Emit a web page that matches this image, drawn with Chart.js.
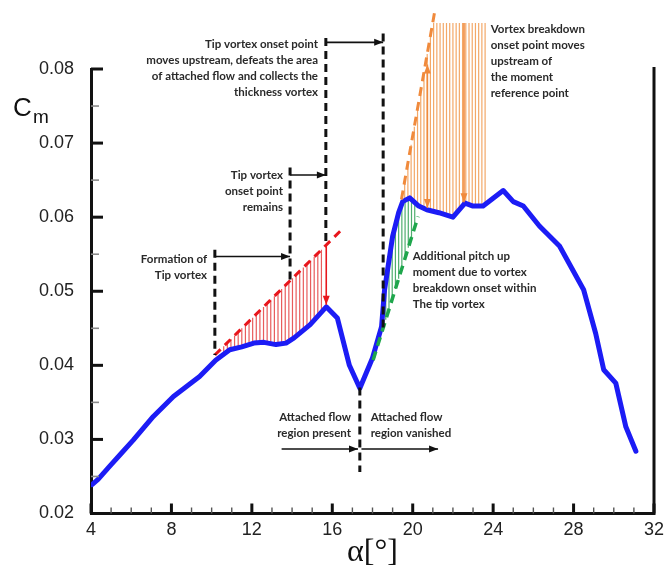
<!DOCTYPE html>
<html>
<head>
<meta charset="utf-8">
<script src="https://cdn.jsdelivr.net/npm/chart.js@4.4.0/dist/chart.umd.min.js"></script>
<style>
  html, body { margin: 0; padding: 0; background: #fff; }
  canvas { display: block; }
</style>
</head>
<body>
<canvas id="cmChart" width="666" height="571"></canvas>
<script>
// ── Pitching moment curve ──
const alpha = [4.05, 4.35, 4.9, 5.5, 6.1, 7.1, 8.1, 9.4, 10.2, 10.9, 11.5, 12.1, 12.6, 13.2, 13.7, 14.1,
  14.9, 15.7, 16.25, 16.85, 17.37, 18.0, 18.45, 18.6, 18.8, 19.0, 19.3, 19.5, 19.85, 20.3, 20.7,
  21.3, 22.0, 22.6, 23.0, 23.5, 24.5, 25.0, 25.5, 26.3, 27.3, 28.5, 29.1, 29.5, 30.1, 30.6, 31.1];
const cm = [0.0239, 0.0246, 0.0263, 0.0281, 0.0299, 0.0331, 0.0358, 0.0385, 0.0407, 0.0421, 0.0425,
  0.0430, 0.0431, 0.0428, 0.0430, 0.0437, 0.0455, 0.0479, 0.0464, 0.0400, 0.0369, 0.0410, 0.0452,
  0.0502, 0.0538, 0.0574, 0.0606, 0.0621, 0.0626, 0.0615, 0.0610, 0.0606, 0.0600, 0.0619, 0.0615,
  0.0615, 0.0636, 0.0621, 0.0615, 0.0588, 0.0561, 0.0502, 0.0443, 0.0394, 0.0376, 0.0317, 0.0284];
const xTicks = [4, 8, 12, 16, 20, 24, 28, 32];
const yTicks = [0.02, 0.03, 0.04, 0.05, 0.06, 0.07, 0.08];

// ── Sketch annotations (in alpha / Cm units) ──
const redLine = [[10.16, 0.0414], [16.54, 0.0585]];
const greenLine = [[18.03, 0.0407], [20.27, 0.0601]];
const orangeLine = [[19.44, 0.0624], [21.09, 0.0877]];
const orangeCap = 0.0862;
const redHatch = [10.6, 15.6];
const greenHatch = [18.5, 20.1];
const orangeHatch = [19.6, 23.6];
// [alpha, cm top, cm bottom]
const guides = [[10.16, 0.0556, 0.0414], [13.9, 0.0667, 0.0515], [15.68, 0.0842, 0.0563],
  [18.53, 0.0848, 0.0448], [17.37, 0.0370, 0.0256]];
// [alpha from, alpha to, cm]
const arrows = [[10.16, 13.9, 0.0547], [13.9, 15.68, 0.0657], [15.68, 18.53, 0.0836],
  [13.48, 17.28, 0.0287], [17.45, 21.26, 0.0287]];
const notes = [
  { at: [15.29, 0.0833], align: 'right', lines: ['Tip vortex onset point', 'moves upstream, defeats the area', 'of attached flow and collects the', 'thickness vortex'] },
  { at: [13.55, 0.0656], align: 'right', lines: ['Tip vortex', 'onset point', 'remains'] },
  { at: [9.77, 0.0543], align: 'right', lines: ['Formation of', 'Tip vortex'] },
  { at: [23.88, 0.0854], align: 'left', lines: ['Vortex breakdown', 'onset point moves', 'upstream of', 'the moment', 'reference point'] },
  { at: [20.0, 0.0547], align: 'left', lines: ['Additional pitch up', 'moment due to vortex', 'breakdown onset within', 'The tip vortex'] },
  { at: [16.93, 0.0330], align: 'right', lines: ['Attached flow', 'region present'] },
  { at: [17.91, 0.0330], align: 'left', lines: ['Attached flow', 'region vanished'] },
];

const BLUE = '#1c1cf5';
const RED = '#e8161c';
const GREEN = '#1ea64c';
const ORANGE = '#f08a3c';
const INK = '#111';
const TEXT = '#2a2a2a';

function cmAt(a) {
  for (let i = 1; i < alpha.length; i++) {
    if (a <= alpha[i]) {
      const t = (a - alpha[i - 1]) / (alpha[i] - alpha[i - 1]);
      return cm[i - 1] + t * (cm[i] - cm[i - 1]);
    }
  }
  return cm[cm.length - 1];
}
function lineAt(seg, a) {
  const [[x0, y0], [x1, y1]] = seg;
  return y0 + (a - x0) * (y1 - y0) / (x1 - x0);
}

function arrowHead(ctx, x0, y0, x1, y1, len, half) {
  const ang = Math.atan2(y1 - y0, x1 - x0);
  ctx.beginPath();
  ctx.moveTo(x1, y1);
  ctx.lineTo(x1 - len * Math.cos(ang) + half * Math.sin(ang), y1 - len * Math.sin(ang) - half * Math.cos(ang));
  ctx.lineTo(x1 - len * Math.cos(ang) - half * Math.sin(ang), y1 - len * Math.sin(ang) + half * Math.cos(ang));
  ctx.closePath();
  ctx.fill();
}
function arrow(ctx, x0, y0, x1, y1, color, both) {
  ctx.save();
  ctx.strokeStyle = color; ctx.fillStyle = color; ctx.lineWidth = 1.6; ctx.setLineDash([]);
  ctx.beginPath(); ctx.moveTo(x0, y0); ctx.lineTo(x1, y1); ctx.stroke();
  arrowHead(ctx, x0, y0, x1, y1, 9, 3.5);
  if (both) arrowHead(ctx, x1, y1, x0, y0, 9, 3.5);
  ctx.restore();
}

const sketch = {
  id: 'sketch',
  beforeDatasetsDraw(chart) {
    const { ctx } = chart;
    const X = v => chart.scales.x.getPixelForValue(v);
    const Y = v => chart.scales.y.getPixelForValue(v);
    const hatch = (range, step, topFn, botFn, color) => {
      ctx.save();
      ctx.setLineDash([]);
      ctx.strokeStyle = color; ctx.lineWidth = 1.2;
      ctx.beginPath();
      for (let a = range[0]; a <= range[1] + 1e-9; a += step) {
        const x = X(a);
        ctx.moveTo(x, Y(topFn(a))); ctx.lineTo(x, Y(botFn(a)));
      }
      ctx.stroke();
      ctx.restore();
    };
    hatch(redHatch, 0.18, a => lineAt(redLine, a), cmAt, '#e85c5c');
    hatch(greenHatch, 0.16, cmAt, a => Math.min(cmAt(a), lineAt(greenLine, a)), '#4fae6e');
    hatch(orangeHatch, 0.16, a => Math.min(orangeCap, Math.max(cmAt(a), lineAt(orangeLine, a))), cmAt, '#f3a868');
  },
  afterDatasetsDraw(chart) {
    const { ctx } = chart;
    const X = v => chart.scales.x.getPixelForValue(v);
    const Y = v => chart.scales.y.getPixelForValue(v);
    const dashed = (seg, color, width, dash) => {
      ctx.save();
      ctx.strokeStyle = color; ctx.lineWidth = width; ctx.setLineDash(dash);
      ctx.beginPath();
      ctx.moveTo(X(seg[0][0]), Y(seg[0][1]));
      ctx.lineTo(X(seg[1][0]), Y(seg[1][1]));
      ctx.stroke();
      ctx.restore();
    };
    dashed(redLine, RED, 3, [8, 6]);
    dashed(greenLine, GREEN, 3.5, [9, 6]);
    dashed(orangeLine, ORANGE, 3, [9, 6]);
    guides.forEach(g => dashed([[g[0], g[1]], [g[0], g[2]]], INK, 3, [8, 5]));
    arrows.forEach(a => arrow(ctx, X(a[0]), Y(a[2]), X(a[1]), Y(a[2]), INK, false));

    // red and orange drop arrows
    arrow(ctx, X(15.7), Y(lineAt(redLine, 15.7)), X(15.7), Y(cmAt(15.7)) - 2, RED, false);
    arrow(ctx, X(20.73), Y(0.0806), X(20.73), Y(cmAt(20.73)) - 2, ORANGE, true);
    arrow(ctx, X(22.55), Y(orangeCap), X(22.55), Y(cmAt(22.55)) - 2, ORANGE, false);

    ctx.save();
    ctx.font = 'bold 11.5px Lato';
    ctx.fillStyle = TEXT;
    ctx.textBaseline = 'middle';
    notes.forEach(n => {
      ctx.textAlign = n.align;
      n.lines.forEach((t, i) => ctx.fillText(t, X(n.at[0]), Y(n.at[1]) + i * 16));
    });
    ctx.restore();
  },
  afterDraw(chart) {
    const { ctx, chartArea: { left, right, top, bottom } } = chart;
    const X = v => chart.scales.x.getPixelForValue(v);
    const Y = v => chart.scales.y.getPixelForValue(v);
    const seg = (x0, y0, x1, y1) => { ctx.beginPath(); ctx.moveTo(x0, y0); ctx.lineTo(x1, y1); ctx.stroke(); };
    ctx.save();
    ctx.setLineDash([]);
    // right frame
    ctx.strokeStyle = INK; ctx.lineWidth = 3;
    seg(X(32), top - 2, X(32), bottom + 1.5);
    // inward ticks
    ctx.lineWidth = 3;
    yTicks.forEach(v => seg(left, Y(v), left + 12, Y(v)));
    xTicks.forEach(v => seg(X(v), bottom, X(v), bottom - 10));
    ctx.strokeStyle = '#8a8a8a'; ctx.lineWidth = 1.6;
    for (let i = 0; i < yTicks.length - 1; i++) {
      const v = (yTicks[i] + yTicks[i + 1]) / 2;
      seg(left, Y(v), left + 8, Y(v));
    }
    ctx.strokeStyle = '#555'; ctx.lineWidth = 1.4;
    for (let a = xTicks[0] + 1; a < xTicks[xTicks.length - 1]; a++) {
      if (a % 4 !== 0) seg(X(a), bottom, X(a), bottom - 6);
    }
    // axis titles
    ctx.fillStyle = '#111';
    ctx.textBaseline = 'alphabetic';
    ctx.textAlign = 'left';
    ctx.font = '26px "Liberation Sans"';
    ctx.fillText('C', 13, 116);
    ctx.font = '19px "Liberation Sans"';
    ctx.fillText('m', 33, 123);
    ctx.textAlign = 'center';
    ctx.textBaseline = 'middle';
    ctx.font = '32px "Liberation Serif"';
    ctx.fillText('α[°]', (left + right) / 2, 553);
    ctx.restore();
  },
};

new Chart(document.getElementById('cmChart'), {
  type: 'line',
  data: {
    datasets: [{
      data: alpha.map((a, i) => ({ x: a, y: cm[i] })),
      borderColor: BLUE,
      borderWidth: 5,
      pointRadius: 0,
      tension: 0,
      borderJoinStyle: 'round',
      borderCapStyle: 'round',
    }],
  },
  options: {
    responsive: false,
    animation: false,
    layout: { padding: { top: 69, right: 12, left: 0, bottom: 0 } },
    plugins: { legend: { display: false }, tooltip: { enabled: false } },
    scales: {
      x: {
        type: 'linear',
        min: 4, max: 32,
        afterBuildTicks: s => { s.ticks = xTicks.map(v => ({ value: v })); },
        afterFit: s => { s.height = 57.5; },
        grid: { display: false },
        border: { display: true, width: 3, color: INK },
        ticks: { color: '#222', font: { family: 'Liberation Sans', size: 18 }, padding: -2, maxRotation: 0, autoSkip: false },
      },
      y: {
        min: 0.02, max: 0.08,
        afterBuildTicks: s => { s.ticks = yTicks.map(v => ({ value: v })); },
        afterFit: s => { s.width = 91; },
        grid: { display: false },
        border: { display: true, width: 3, color: INK },
        ticks: {
          color: '#222', font: { family: 'Liberation Sans', size: 18 }, padding: 9,
          callback: v => v.toFixed(2),
        },
      },
    },
  },
  plugins: [sketch],
});
</script>
</body>
</html>
